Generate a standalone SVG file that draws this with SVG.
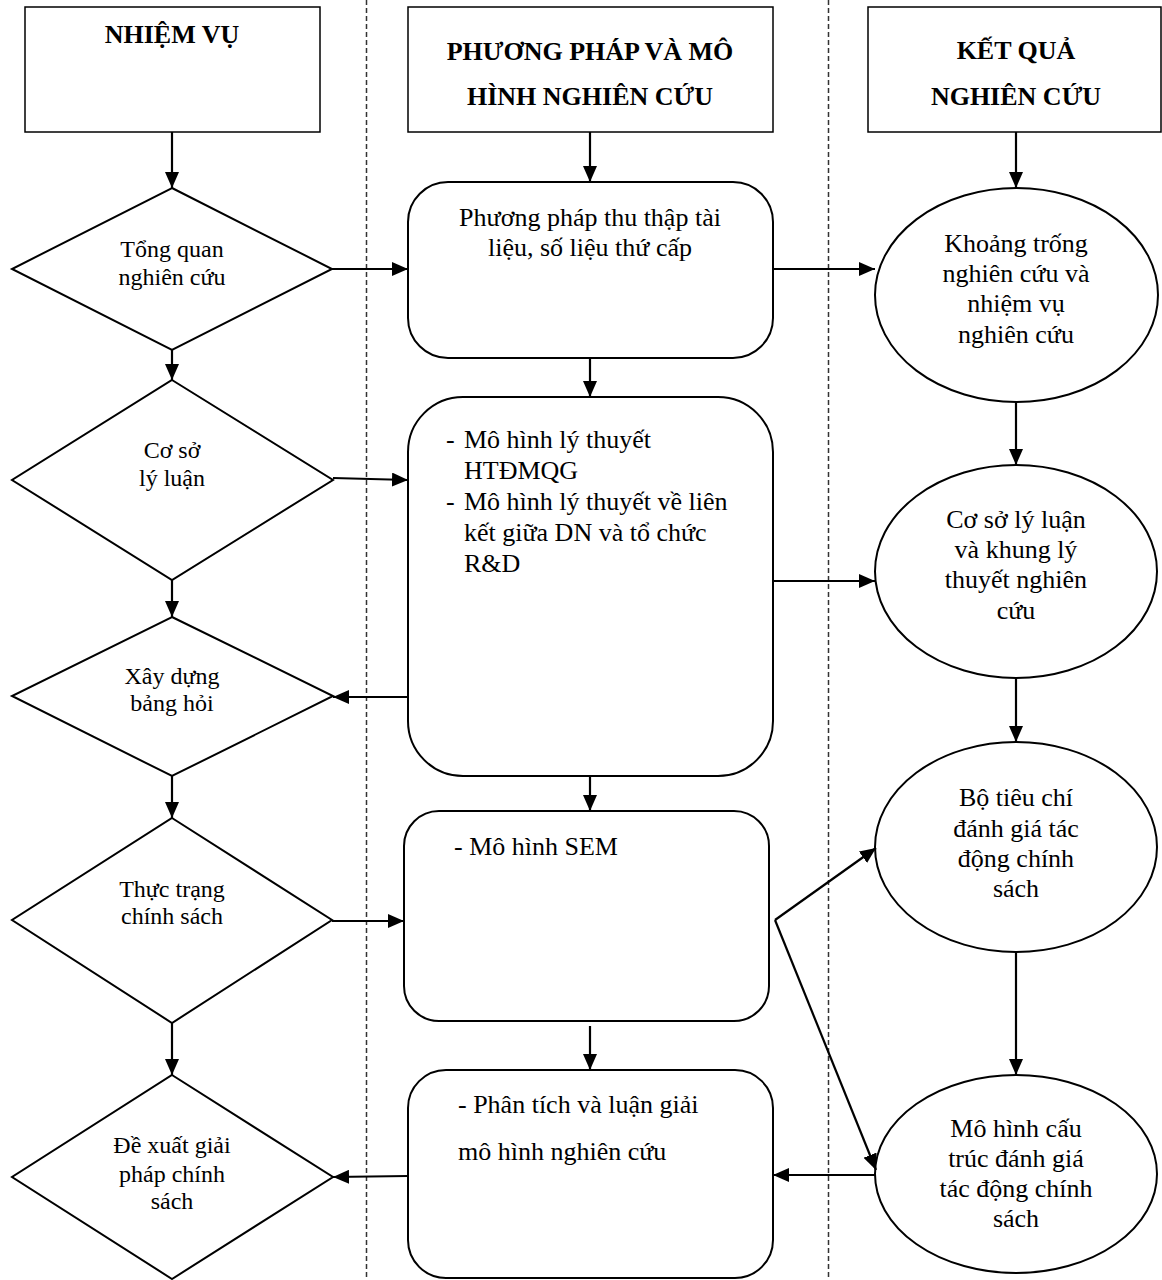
<svg xmlns="http://www.w3.org/2000/svg" width="1162" height="1280" viewBox="0 0 1162 1280" font-family="'Liberation Serif', 'Times New Roman', Tinos, serif">
  <style>
    .hdr { fill: #fff; stroke: #000; stroke-width: 1.5; }
    .shape { fill: #fff; stroke: #000; stroke-width: 2; }
    .lane { stroke: #333; stroke-width: 1.5; stroke-dasharray: 5 3; fill: none; }
    .edge { stroke: #000; stroke-width: 2.2; fill: none; marker-end: url(#arrow); }
    .h { font-size: 26px; font-weight: bold; text-anchor: middle; }
    .d { font-size: 24px; text-anchor: middle; }
    .t { font-size: 26px; }
    .c { font-size: 26px; text-anchor: middle; }
  </style>
  <defs>
    <marker id="arrow" viewBox="0 0 16 14" refX="16" refY="7" markerWidth="16" markerHeight="14" markerUnits="userSpaceOnUse" orient="auto">
      <path d="M0,0 L16,7 L0,14 z" fill="#000"/>
    </marker>
  </defs>
  <rect width="1162" height="1280" fill="#fff"/>

  <!-- lane separators -->
  <g id="lanes">
    <line class="lane" x1="366.5" y1="0" x2="366.5" y2="1280"/>
    <line class="lane" x1="828.5" y1="0" x2="828.5" y2="1280"/>
  </g>

  <!-- column headers -->
  <g id="hdr-nhiem-vu">
    <rect class="hdr" x="25" y="7" width="295" height="125"/>
    <text class="h" x="172" y="43" font-family="Liberation Serif">NHIỆM VỤ</text>
  </g>
  <g id="hdr-phuong-phap">
    <rect class="hdr" x="408" y="7" width="365" height="125"/>
    <text class="h" x="590" y="60">PHƯƠNG PHÁP VÀ MÔ</text>
    <text class="h" x="590" y="105">HÌNH NGHIÊN CỨU</text>
  </g>
  <g id="hdr-ket-qua">
    <rect class="hdr" x="868" y="7" width="293" height="125"/>
    <text class="h" x="1016" y="59">KẾT QUẢ</text>
    <text class="h" x="1016" y="105">NGHIÊN CỨU</text>
  </g>

  <!-- tasks column (diamonds) -->
  <g id="task-tong-quan">
    <polygon class="shape" points="172,188 332,269 172,350 12,269"/>
    <text class="d" x="172" y="257">Tổng quan</text>
    <text class="d" x="172" y="285">nghiên cứu</text>
  </g>
  <g id="task-co-so">
    <polygon class="shape" points="172,380 333,480 172,580 12,480"/>
    <text class="d" x="172" y="458">Cơ sở</text>
    <text class="d" x="172" y="486">lý luận</text>
  </g>
  <g id="task-bang-hoi">
    <polygon class="shape" points="172,617 333,696 172,776 12,696"/>
    <text class="d" x="172" y="684">Xây dựng</text>
    <text class="d" x="172" y="711">bảng hỏi</text>
  </g>
  <g id="task-thuc-trang">
    <polygon class="shape" points="172,818 332,920 172,1023 12,920"/>
    <text class="d" x="172" y="897">Thực trạng</text>
    <text class="d" x="172" y="924">chính sách</text>
  </g>
  <g id="task-de-xuat">
    <polygon class="shape" points="172,1075 333,1177 172,1279 12,1177"/>
    <text class="d" x="172" y="1153">Đề xuất giải</text>
    <text class="d" x="172" y="1182">pháp chính</text>
    <text class="d" x="172" y="1209">sách</text>
  </g>

  <!-- methods column (rounded boxes) -->
  <g id="method-thu-thap">
    <rect class="shape" x="408" y="182" width="365" height="176" rx="40" ry="40"/>
    <text class="c" x="590" y="226">Phương pháp thu thập tài</text>
    <text class="c" x="590" y="256">liệu, số liệu thứ cấp</text>
  </g>
  <g id="method-ly-thuyet">
    <rect class="shape" x="408" y="397" width="365" height="379" rx="55" ry="55"/>
    <text class="t" x="446" y="448">-</text>
    <text class="t" x="464" y="448">Mô hình lý thuyết</text>
    <text class="t" x="464" y="479">HTĐMQG</text>
    <text class="t" x="446" y="510">-</text>
    <text class="t" x="464" y="510">Mô hình lý thuyết về liên</text>
    <text class="t" x="464" y="541">kết giữa DN và tổ chức</text>
    <text class="t" x="464" y="572">R&amp;D</text>
  </g>
  <g id="method-sem">
    <rect class="shape" x="404" y="811" width="365" height="210" rx="35" ry="35"/>
    <text class="t" x="454" y="855">- Mô hình SEM</text>
  </g>
  <g id="method-phan-tich">
    <rect class="shape" x="408" y="1070" width="365" height="208" rx="38" ry="38"/>
    <text class="t" x="458" y="1113">- Phân tích và luận giải</text>
    <text class="t" x="458" y="1160">mô hình nghiên cứu</text>
  </g>

  <!-- results column (ellipses) -->
  <g id="result-khoang-trong">
    <ellipse class="shape" cx="1016.5" cy="295" rx="141.5" ry="107"/>
    <text class="c" x="1016" y="252">Khoảng trống</text>
    <text class="c" x="1016" y="282">nghiên cứu và</text>
    <text class="c" x="1016" y="312">nhiệm vụ</text>
    <text class="c" x="1016" y="343">nghiên cứu</text>
  </g>
  <g id="result-co-so">
    <ellipse class="shape" cx="1016" cy="571.5" rx="141" ry="106.5"/>
    <text class="c" x="1016" y="528">Cơ sở lý luận</text>
    <text class="c" x="1016" y="558">và khung lý</text>
    <text class="c" x="1016" y="588">thuyết nghiên</text>
    <text class="c" x="1016" y="619">cứu</text>
  </g>
  <g id="result-tieu-chi">
    <ellipse class="shape" cx="1016" cy="847" rx="141" ry="105"/>
    <text class="c" x="1016" y="806">Bộ tiêu chí</text>
    <text class="c" x="1016" y="837">đánh giá tác</text>
    <text class="c" x="1016" y="867">động chính</text>
    <text class="c" x="1016" y="897">sách</text>
  </g>
  <g id="result-mo-hinh">
    <ellipse class="shape" cx="1016" cy="1174" rx="141" ry="99"/>
    <text class="c" x="1016" y="1137">Mô hình cấu</text>
    <text class="c" x="1016" y="1167">trúc đánh giá</text>
    <text class="c" x="1016" y="1197">tác động chính</text>
    <text class="c" x="1016" y="1227">sách</text>
  </g>

  <!-- connectors -->
  <g id="connectors">
    <line class="edge" x1="172" y1="132" x2="172" y2="188"/>
    <line class="edge" x1="590" y1="132" x2="590" y2="182"/>
    <line class="edge" x1="1016" y1="132" x2="1016" y2="188"/>

    <line class="edge" x1="172" y1="350" x2="172" y2="380"/>
    <line class="edge" x1="172" y1="580" x2="172" y2="617"/>
    <line class="edge" x1="172" y1="776" x2="172" y2="818"/>
    <line class="edge" x1="172" y1="1023" x2="172" y2="1075"/>

    <line class="edge" x1="590" y1="358" x2="590" y2="397"/>
    <line class="edge" x1="590" y1="776" x2="590" y2="811"/>
    <line class="edge" x1="590" y1="1026" x2="590" y2="1070"/>

    <line class="edge" x1="1016" y1="402" x2="1016" y2="465"/>
    <line class="edge" x1="1016" y1="678" x2="1016" y2="742"/>
    <line class="edge" x1="1016" y1="952" x2="1016" y2="1075"/>

    <line class="edge" x1="332" y1="269" x2="408" y2="269"/>
    <line class="edge" x1="333" y1="478" x2="408" y2="480"/>
    <line class="edge" x1="408" y1="697" x2="333" y2="697"/>
    <line class="edge" x1="332" y1="921" x2="404" y2="921"/>
    <line class="edge" x1="408" y1="1176" x2="333" y2="1177"/>

    <line class="edge" x1="773" y1="269" x2="875" y2="269"/>
    <line class="edge" x1="773" y1="581" x2="875" y2="581"/>
    <line class="edge" x1="775" y1="920" x2="876" y2="848"/>
    <line class="edge" x1="775" y1="920" x2="876" y2="1170"/>
    <line class="edge" x1="875" y1="1175" x2="773" y2="1175"/>
  </g>
</svg>
